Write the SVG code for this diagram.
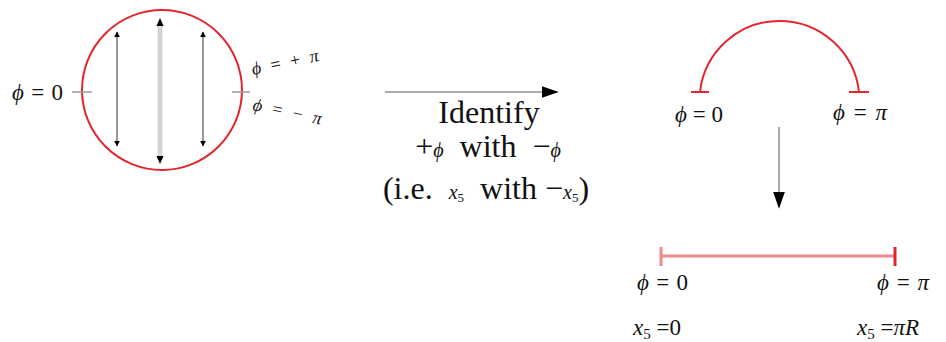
<svg xmlns="http://www.w3.org/2000/svg" width="946" height="342" viewBox="0 0 946 342">
<style>
.t{font-family:"Liberation Serif","Times New Roman",serif;fill:#111;}
.m{font-style:italic;}
.red{fill:none;stroke:#e3262c;stroke-width:2;}
.tick{stroke:#999;stroke-width:1.5;}
</style>
<defs>
<marker id="ah" viewBox="0 0 10 10" refX="9" refY="5" markerWidth="6" markerHeight="6" orient="auto-start-reverse" markerUnits="userSpaceOnUse">
<path d="M0,0 L10,5 L0,10 z" fill="#000"/>
</marker>
<marker id="big" viewBox="0 0 10 10" refX="9" refY="5" markerWidth="17" markerHeight="17" orient="auto" markerUnits="userSpaceOnUse">
<path d="M0,1.5 L10,5 L0,8.5 z" fill="#000"/>
</marker>
</defs>

<g id="circle-node">
<circle class="red" cx="162" cy="90" r="80"/>
<line class="tick" x1="72" y1="92" x2="92" y2="92"/>
<line class="tick" x1="232" y1="92" x2="250" y2="92"/>
<line x1="117" y1="32" x2="117" y2="146" stroke="#999" stroke-width="2" marker-start="url(#ah)" marker-end="url(#ah)"/>
<line x1="160" y1="22" x2="160" y2="160" stroke="#d4d4d4" stroke-width="5"/>
<path d="M156.5,26 L163.5,26 L160,18 z" fill="#000"/>
<path d="M156.5,156 L163.5,156 L160,164 z" fill="#000"/>
<line x1="203" y1="32" x2="203" y2="146" stroke="#999" stroke-width="2" marker-start="url(#ah)" marker-end="url(#ah)"/>
<text class="t" x="12" y="100" font-size="23" textLength="51" lengthAdjust="spacing"><tspan class="m">ϕ</tspan>=0</text>
<text class="t" x="253" y="75" font-size="18" transform="rotate(-12 253 75)" textLength="68" lengthAdjust="spacing"><tspan class="m">ϕ</tspan>=+<tspan class="m">π</tspan></text>
<text class="t" x="252" y="110" font-size="18" transform="rotate(12 252 110)" textLength="70" lengthAdjust="spacing"><tspan class="m">ϕ</tspan>=−<tspan class="m">π</tspan></text>
</g>

<g id="arc-node">
<path class="red" d="M700,92 A80,80 0 0 1 859,92"/>
<line x1="691" y1="92" x2="709" y2="92" stroke="#e3262c" stroke-width="2"/>
<line x1="849" y1="92" x2="869" y2="92" stroke="#e3262c" stroke-width="2"/>
<text class="t" x="675" y="122" font-size="23" textLength="48" lengthAdjust="spacing"><tspan class="m">ϕ</tspan>=0</text>
<text class="t" x="833" y="120" font-size="23" textLength="54" lengthAdjust="spacing"><tspan class="m">ϕ</tspan>=<tspan class="m">π</tspan></text>
</g>

<g id="segment-node">
<line x1="661" y1="256" x2="895" y2="256" stroke="#ee8a8c" stroke-width="3"/>
<line x1="661" y1="247" x2="661" y2="266" stroke="#ee8a8c" stroke-width="3"/>
<line x1="895" y1="247" x2="895" y2="266" stroke="#e3262c" stroke-width="3"/>
<text class="t" x="637" y="290" font-size="23" textLength="51" lengthAdjust="spacing"><tspan class="m">ϕ</tspan>=0</text>
<text class="t" x="877" y="290" font-size="23" textLength="52" lengthAdjust="spacing"><tspan class="m">ϕ</tspan>=<tspan class="m">π</tspan></text>
<text class="t" x="633" y="335" font-size="23"><tspan class="m">x</tspan><tspan font-size="15" dy="4">5</tspan><tspan dy="-4"> =0</tspan></text>
<text class="t" x="857" y="335" font-size="23"><tspan class="m">x</tspan><tspan font-size="15" dy="4">5</tspan><tspan dy="-4"> =</tspan><tspan class="m">πR</tspan></text>
</g>

<g id="connectors">
<line x1="385" y1="92" x2="557" y2="92" stroke="#aaa" stroke-width="2" marker-end="url(#big)"/>
<line x1="779" y1="127" x2="779" y2="207" stroke="#aaa" stroke-width="2" marker-end="url(#big)"/>
</g>

<g id="label">
<text class="t" x="489" y="123" font-size="32" text-anchor="middle">Identify</text>
<text class="t" x="488" y="157" font-size="32" text-anchor="middle" xml:space="preserve">+<tspan class="m" font-size="20">ϕ</tspan>  with  −<tspan class="m" font-size="20">ϕ</tspan></text>
<text class="t" x="486" y="199" font-size="32" text-anchor="middle" xml:space="preserve">(i.e.  <tspan class="m" font-size="20">x</tspan><tspan font-size="13" dy="3">5</tspan><tspan dy="-3">  with −</tspan><tspan class="m" font-size="20">x</tspan><tspan font-size="13" dy="3">5</tspan><tspan dy="-3">)</tspan></text>
</g>
</svg>
